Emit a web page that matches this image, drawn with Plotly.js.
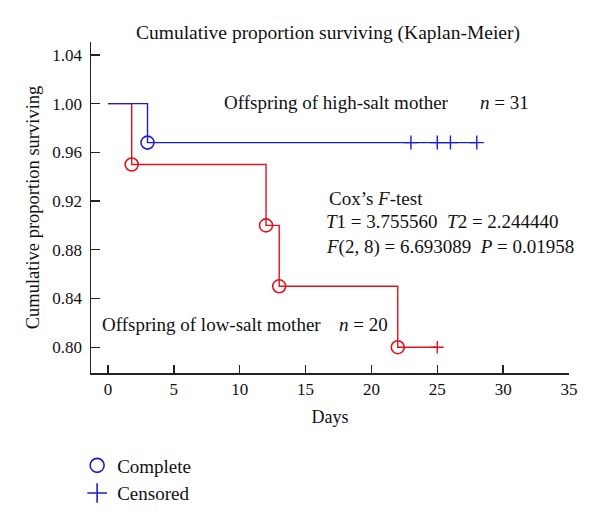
<!DOCTYPE html>
<html>
<head>
<meta charset="utf-8">
<script src="https://cdn.plot.ly/plotly-3.0.1.min.js"></script>
<style>html,body{margin:0;padding:0;background:#fff;}#chart{width:600px;height:525px;}</style>
</head>
<body>
<div id="chart"></div>
<script>
// High-salt group (n = 31)
const highStepDays = [0, 3, 28];
const highStepSurv = [1.00, 0.968, 0.968];
const highEventDays = [3];
const highEventSurv = [0.968];
const highCensorDays = [23, 25, 26, 28];
const highCensorSurv = [0.968, 0.968, 0.968, 0.968];

// Low-salt group (n = 20)
const lowStepDays = [0, 1.8, 12, 13, 22, 25];
const lowStepSurv = [1.00, 0.95, 0.90, 0.85, 0.80, 0.80];
const lowEventDays = [1.8, 12, 13, 22];
const lowEventSurv = [0.95, 0.90, 0.85, 0.80];
const lowCensorDays = [25];
const lowCensorSurv = [0.80];

const xTicks = [0, 5, 10, 15, 20, 25, 30, 35];
const yTicks = [0.80, 0.84, 0.88, 0.92, 0.96, 1.00, 1.04];

const RED = '#e3121b';
const BLUE = '#1c1ccf';
const FONT = 'Liberation Serif, Times New Roman, serif';
const SP = '\u00a0\u00a0';

const traces = [
  {x: lowStepDays, y: lowStepSurv, mode: 'lines', line: {shape: 'hv', color: RED, width: 1.4}, showlegend: false, hoverinfo: 'skip'},
  {x: highStepDays, y: highStepSurv, mode: 'lines', line: {shape: 'hv', color: BLUE, width: 1.4}, showlegend: false, hoverinfo: 'skip'},
  {x: lowEventDays, y: lowEventSurv, mode: 'markers', marker: {symbol: 'circle-open', size: 13, color: RED, line: {width: 1.6, color: RED}}, showlegend: false},
  {x: highEventDays, y: highEventSurv, mode: 'markers', marker: {symbol: 'circle-open', size: 13, color: BLUE, line: {width: 1.6, color: BLUE}}, showlegend: false},
  {x: lowCensorDays, y: lowCensorSurv, mode: 'markers', marker: {symbol: 'cross-thin-open', size: 9, color: RED, line: {width: 1.4, color: RED}}, showlegend: false},
  {x: highCensorDays, y: highCensorSurv, mode: 'markers', marker: {symbol: 'cross-thin-open', size: 10, color: BLUE, line: {width: 1.4, color: BLUE}}, showlegend: false},
  {x: [null], y: [null], mode: 'markers', name: 'Complete', marker: {symbol: 'circle-open', size: 14, color: BLUE, line: {width: 1.6, color: BLUE}}},
  {x: [null], y: [null], mode: 'markers', name: 'Censored', marker: {symbol: 'cross-thin-open', size: 14, color: BLUE, line: {width: 1.6, color: BLUE}}}
];

const annFont = {family: FONT, size: 19, color: '#111'};
const layout = {
  width: 600, height: 525,
  margin: {l: 91, r: 31, t: 42, b: 150},
  paper_bgcolor: '#fff', plot_bgcolor: '#fff',
  font: {family: FONT, size: 17, color: '#111'},
  title: {text: 'Cumulative proportion surviving (Kaplan-Meier)', font: {family: FONT, size: 19.5, color: '#111'}, x: 328 / 600, xanchor: 'center', y: 1 - 32 / 525, yanchor: 'middle'},
  xaxis: {
    range: [-1.29, 35], tickvals: xTicks, ticks: 'inside', ticklen: 8, tickwidth: 1.3, tickcolor: '#222',
    showline: true, linecolor: '#222', linewidth: 1.5, showgrid: false, zeroline: false,
    tickfont: {family: FONT, size: 17, color: '#111'},
    title: {text: 'Days', font: {family: FONT, size: 18, color: '#111'}, standoff: 12}
  },
  yaxis: {
    range: [0.7788, 1.0506], tickvals: yTicks, tickformat: '.2f', ticks: 'inside', ticklen: 9, tickwidth: 1.3, tickcolor: '#222',
    showline: true, linecolor: '#222', linewidth: 1.5, showgrid: false, zeroline: false,
    tickfont: {family: FONT, size: 17, color: '#111'}, ticklabelstandoff: 4,
    title: {text: 'Cumulative proportion surviving', font: {family: FONT, size: 18.5, color: '#111'}, standoff: 8}
  },
  showlegend: true,
  legend: {x: -0.029, xanchor: 'left', y: -0.222, yanchor: 'top', font: {family: FONT, size: 19, color: '#111'}, bgcolor: 'rgba(0,0,0,0)', itemwidth: 30, tracegroupgap: 0},
  annotations: [
    {xref: 'paper', yref: 'paper', x: (222 - 91) / 478, y: (375 - 103) / 333, xanchor: 'left', yanchor: 'middle', showarrow: false, text: 'Offspring of high-salt mother', font: annFont},
    {xref: 'paper', yref: 'paper', x: (478 - 91) / 478, y: (375 - 103) / 333, xanchor: 'left', yanchor: 'middle', showarrow: false, text: '<i>n</i> = 31', font: annFont},
    {xref: 'paper', yref: 'paper', x: (327 - 91) / 478, y: (375 - 199) / 333, xanchor: 'left', yanchor: 'middle', showarrow: false, text: 'Cox\u2019s <i>F</i>-test', font: annFont},
    {xref: 'paper', yref: 'paper', x: (324 - 91) / 478, y: (375 - 223) / 333, xanchor: 'left', yanchor: 'middle', showarrow: false, text: '<i>T</i>1 = 3.755560' + SP + '<i>T</i>2 = 2.244440', font: annFont},
    {xref: 'paper', yref: 'paper', x: (324 - 91) / 478, y: (375 - 248) / 333, xanchor: 'left', yanchor: 'middle', showarrow: false, text: '<i>F</i>(2, 8) = 6.693089' + SP + '<i>P</i> = 0.01958', font: annFont},
    {xref: 'paper', yref: 'paper', x: (100 - 91) / 478, y: (375 - 326) / 333, xanchor: 'left', yanchor: 'middle', showarrow: false, text: 'Offspring of low-salt mother', font: annFont},
    {xref: 'paper', yref: 'paper', x: (337 - 91) / 478, y: (375 - 326) / 333, xanchor: 'left', yanchor: 'middle', showarrow: false, text: '<i>n</i> = 20', font: annFont}
  ]
};

Plotly.newPlot('chart', traces, layout, {displayModeBar: false, staticPlot: true});
</script>
</body>
</html>
